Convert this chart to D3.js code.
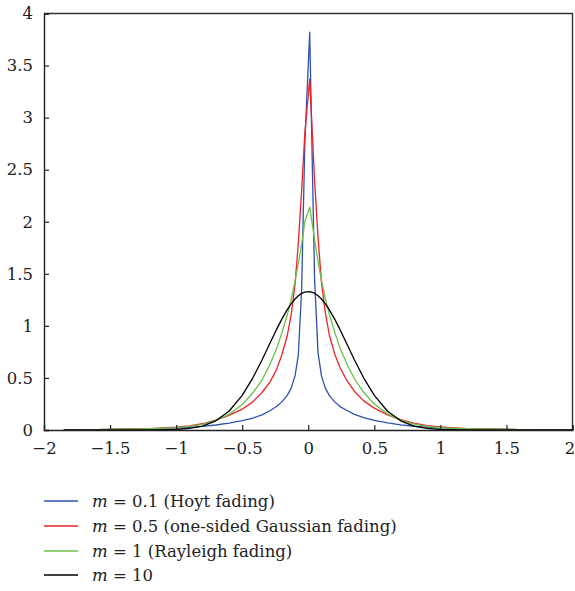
<!DOCTYPE html>
<html>
<head>
<meta charset="utf-8">
<script src="https://cdn.jsdelivr.net/npm/d3@7"></script>
<style>
  body { margin: 0; background: #fff; }
  svg text { font-family: "DejaVu Serif", "Liberation Serif", serif; fill: #222; }
</style>
</head>
<body>
<div id="chart"></div>
<script>
// sample positions shared by all curves
var xs = [-1.85, -1.6, -1.4, -1.2, -1.0, -0.9, -0.8, -0.7, -0.6, -0.5, -0.42, -0.35, -0.29, -0.24, -0.2, -0.16, -0.13, -0.1, -0.075, -0.05, -0.026,
          0.011, 0.048, 0.074, 0.1, 0.13, 0.16, 0.2, 0.24, 0.29, 0.35, 0.42, 0.5, 0.6, 0.7, 0.8, 0.9, 1.0, 1.2, 1.4, 1.6, 1.8, 2.0];

var blueY = [0.002, 0.004, 0.007, 0.011, 0.019, 0.026, 0.035, 0.048, 0.066, 0.09, 0.115, 0.145, 0.185, 0.225, 0.27, 0.33, 0.40, 0.52, 0.72, 1.35, 2.75,
             3.82, 1.45, 0.74, 0.52, 0.40, 0.33, 0.27, 0.225, 0.19, 0.15, 0.118, 0.092, 0.068, 0.05, 0.036, 0.027, 0.02, 0.011, 0.007, 0.004, 0.002, 0.001];

var redY = [0.002, 0.004, 0.007, 0.014, 0.028, 0.04, 0.06, 0.095, 0.14, 0.2, 0.27, 0.36, 0.46, 0.58, 0.72, 0.9, 1.1, 1.4, 1.8, 2.3, 2.85,
            3.37, 2.4, 1.85, 1.42, 1.12, 0.91, 0.73, 0.6, 0.48, 0.37, 0.28, 0.21, 0.145, 0.1, 0.065, 0.043, 0.029, 0.014, 0.007, 0.004, 0.002, 0.001];

var greenY = [0.002, 0.004, 0.007, 0.012, 0.022, 0.034, 0.055, 0.09, 0.15, 0.245, 0.355, 0.48, 0.63, 0.78, 0.93, 1.1, 1.25, 1.43, 1.6, 1.78, 2.0,
              2.14, 1.83, 1.62, 1.44, 1.26, 1.11, 0.94, 0.79, 0.64, 0.49, 0.36, 0.25, 0.155, 0.092, 0.056, 0.035, 0.022, 0.012, 0.007, 0.004, 0.002, 0.001];

var blackY = [0, 0, 0, 0.001, 0.005, 0.015, 0.038, 0.088, 0.18, 0.332, 0.499, 0.673, 0.834, 0.966, 1.065, 1.153, 1.211, 1.258, 1.289, 1.312, 1.325,
              1.329, 1.314, 1.29, 1.258, 1.211, 1.153, 1.065, 0.966, 0.834, 0.673, 0.499, 0.332, 0.18, 0.088, 0.038, 0.015, 0.005, 0.001, 0, 0, 0, 0];

var seriesNames = ["0.1 (Hoyt fading)", "0.5 (one-sided Gaussian fading)", "1 (Rayleigh fading)", "10"];
var seriesColors = ["#2f52b0", "#ee2229", "#6cc04a", "#000000"];
var seriesValues = [blueY, redY, greenY, blackY];

var xTicks = [-2, -1.5, -1, -0.5, 0, 0.5, 1, 1.5, 2];
var xTickLabels = ["\u22122", "\u22121.5", "\u22121", "\u22120.5", "0", "0.5", "1", "1.5", "2"];
var yTicks = [0, 0.5, 1, 1.5, 2, 2.5, 3, 3.5, 4];
var yTickLabels = ["0", "0.5", "1", "1.5", "2", "2.5", "3", "3.5", "4"];

var margin = {top: 13.5, left: 44},
    width = 528.5,
    height = 416.5;

var svg = d3.select("#chart").append("svg")
    .attr("width", 575)
    .attr("height", 591);

var g = svg.append("g")
    .attr("transform", "translate(" + margin.left + "," + margin.top + ")");

var x = d3.scaleLinear().domain([-2, 2]).range([0, width]);
var y = d3.scaleLinear().domain([0, 4]).range([height, 0]);

// frame on top and right
g.append("path")
    .attr("d", "M0,0H" + width + "V" + height)
    .attr("fill", "none")
    .attr("stroke", "#333")
    .attr("stroke-width", 1.4);

// curves
var line = d3.line()
    .x(function(d) { return x(d[0]); })
    .y(function(d) { return y(d[1]); });

seriesValues.forEach(function(vals, i) {
    g.append("path")
        .datum(xs.map(function(v, k) { return [v, vals[k]]; }))
        .attr("fill", "none")
        .attr("stroke", seriesColors[i])
        .attr("stroke-width", 1.3)
        .attr("stroke-linejoin", "round")
        .attr("d", line);
});

// axes with inward ticks
var xAxis = d3.axisBottom(x)
    .tickValues(xTicks)
    .tickSize(-5)
    .tickPadding(12)
    .tickFormat(function(d, i) { return xTickLabels[i]; });

var yAxis = d3.axisLeft(y)
    .tickValues(yTicks)
    .tickSize(-5)
    .tickPadding(11)
    .tickFormat(function(d, i) { return yTickLabels[i]; });

var gx = g.append("g")
    .attr("transform", "translate(0," + height + ")")
    .call(xAxis);
var gy = g.append("g").call(yAxis);

[gx, gy].forEach(function(ax) {
    ax.select(".domain").attr("stroke", "#222").attr("stroke-width", 1.4);
    ax.selectAll(".tick line").attr("stroke", "#222").attr("stroke-width", 1.2);
    ax.selectAll(".tick text")
        .style("font-family", "'DejaVu Serif', 'Liberation Serif', serif")
        .style("font-size", "16.5px")
        .attr("fill", "#222");
});
gx.selectAll(".tick text").attr("dy", "0.71em");
// last label sits on the page edge; nudge it in a little
gx.selectAll(".tick text").filter(function(d) { return d === 2; }).attr("x", -3);

// legend
var legend = svg.append("g");
var legendY = [501, 526, 551, 575];
seriesNames.forEach(function(name, i) {
    var row = legend.append("g").attr("transform", "translate(44," + legendY[i] + ")");
    row.append("line")
        .attr("x1", 0).attr("x2", 34)
        .attr("y1", 0).attr("y2", 0)
        .attr("stroke", seriesColors[i])
        .attr("stroke-width", 1.3);
    var t = row.append("text")
        .attr("x", 48)
        .attr("y", 0)
        .attr("dy", "0.35em")
        .style("font-size", "16.5px");
    t.append("tspan").style("font-style", "italic").text("m");
    t.append("tspan").text(" = " + name);
});
</script>
</body>
</html>
